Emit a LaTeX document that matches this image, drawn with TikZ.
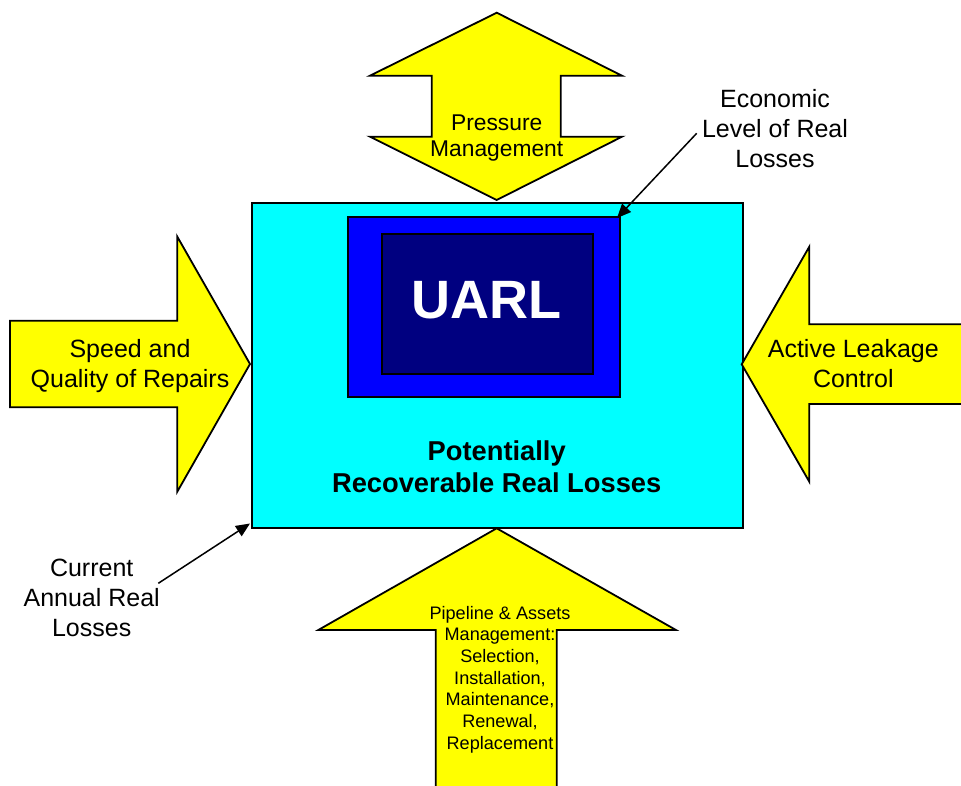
\documentclass[tikz,border=0pt]{standalone}
\usepackage{fontspec}
\setmainfont{Liberation Sans}
\usetikzlibrary{arrows.meta}

\definecolor{arrowyellow}{RGB}{255,255,0}
\definecolor{boxcyan}{RGB}{0,255,255}
\definecolor{boxblue}{RGB}{0,0,255}
\definecolor{boxnavy}{RGB}{0,0,128}

\tikzset{
  outline/.style={draw=black, line width=1.8pt, line join=miter},
  bigarrow/.style={outline, fill=arrowyellow},
  panel/.style={outline, inner sep=0pt, anchor=north west},
  label/.style={align=center, inner sep=0pt, text=black},
  midtext/.style={label, font={\fontsize{25pt}{30pt}\selectfont}},
  leader/.style={line width=1.5pt, -{Triangle[length=14pt,width=12pt]}},
}

\begin{document}
\begin{tikzpicture}[x=1pt, y=-1pt]
  \useasboundingbox (0,0) rectangle (961,785);

  % central box and the two nested boxes
  \node[panel, fill=boxcyan, minimum width=491pt, minimum height=325.6pt] (rrl) at (250.7,201.7) {};
  \node[panel, fill=boxblue, minimum width=272pt, minimum height=179.7pt] (econ) at (347.3,216) {};
  \node[panel, fill=boxnavy, minimum width=211pt, minimum height=140pt] (uarl) at (380.7,232.7) {};

  % four yellow block arrows
  \draw[bigarrow] (496.7,12.7) -- (622,75.7) -- (560.7,75.7) -- (560.7,136.7) -- (622,136.7)
    -- (496.7,200) -- (370,136.7) -- (431.7,136.7) -- (431.7,75.7) -- (370,75.7) -- cycle;
  \draw[bigarrow] (10,320.7) -- (177.3,320.7) -- (177.3,236.7) -- (250,364) -- (177.3,491.7)
    -- (177.3,407.3) -- (10,407.3) -- cycle;
  \draw[bigarrow] (741.7,364.3) -- (809.3,246.7) -- (809.3,324.3) -- (966,324.3) -- (966,404)
    -- (809.3,404) -- (809.3,481.7) -- cycle;
  \draw[bigarrow] (496.7,528.3) -- (676,630) -- (556.7,630) -- (556.7,792) -- (435.7,792)
    -- (435.7,630) -- (318.3,630) -- cycle;

  % texts
  \node[label, text=white, font={\fontsize{54pt}{60pt}\selectfont\bfseries}] (uarltext) at (486.3,300) {UARL};
  \node[label, font={\fontsize{27.3pt}{31.7pt}\selectfont\bfseries}] (rrltext) at (496.7,466.5)
    {Potentially\\Recoverable Real Losses};
  \node[label, font={\fontsize{22.8pt}{26pt}\selectfont}] (pm) at (496.7,138.3) {Pressure\\Management};
  \node[midtext] (sq) at (130,366) {Speed and\\Quality of Repairs};
  \node[midtext] (alc) at (853.3,363.8) {Active Leakage\\Control};
  \node[label, font={\fontsize{18.1pt}{21.7pt}\selectfont}] (pam) at (500,679.5)
    {Pipeline \& Assets\\Management:\\Selection,\\Installation,\\Maintenance,\\Renewal,\\Replacement};
  \node[midtext] (eco) at (775,128.5) {Economic\\Level of Real\\Losses};
  \node[midtext] (cur) at (91.7,598.3) {Current\\Annual Real\\Losses};

  % leader lines
  \coordinate (ecotail) at (696.7,133.3);
  \coordinate (ecotip) at (617,218);
  \coordinate (curtail) at (158.3,583.3);
  \coordinate (curtip) at (250,523.5);
  \draw[leader] (ecotail) -- (ecotip);
  \draw[leader] (curtail) -- (curtip);
\end{tikzpicture}
\end{document}
